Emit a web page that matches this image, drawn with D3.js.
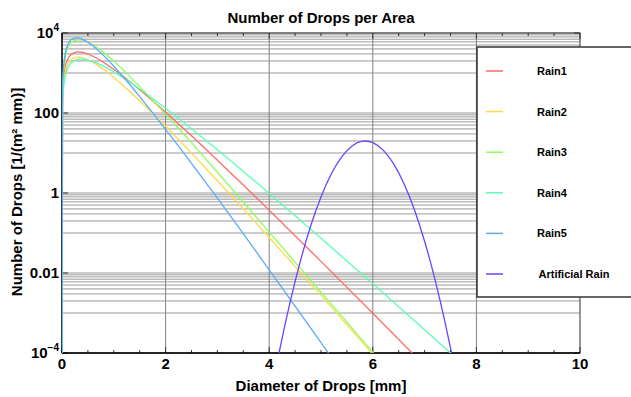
<!DOCTYPE html>
<html>
<head>
<meta charset="utf-8">
<script src="https://cdn.jsdelivr.net/npm/d3@7"></script>
<style>
  body { margin: 0; background: #fff; }
  text { font-family: "Liberation Sans", Arial, sans-serif; font-weight: bold; fill: #000; }
</style>
</head>
<body>
<svg id="chart" width="631" height="397"></svg>
<script>
// Drop diameters [mm] at which the rain spectra are sampled
const diameters = [0, 0.01, 0.02, 0.05, 0.1, 0.15, 0.2, 0.3, 0.4, 0.5, 0.6, 0.8, 1, 1.25, 1.5, 2, 2.5, 3, 4, 5, 6, 7, 8];

// Number of drops per area [1/(m² mm)] for each natural rain spectrum
const rain1 = [1e-5, 265, 520, 1199, 2070, 2667, 3048, 3357, 3273, 2985, 2618, 1862, 1236, 700, 382, 105, 26.9, 6.62, 0.372, 0.0195, 9.84e-4, 4.82e-5, 2.31e-6];
const rain2 = [1e-5, 161, 337, 836, 1510, 1982, 2286, 2506, 2404, 2153, 1845, 1239, 776, 406, 203, 46.6, 9.93, 2.03, 0.0773, 2.75e-3, 9.33e-5, 3.08e-6, 9.9e-8];
const rain3 = [1e-5, 282, 661, 1905, 3802, 5248, 6166, 6761, 6607, 5888, 5012, 3311, 1995, 977, 457, 93.3, 18.2, 3.31, 0.105, 3.31e-3, 1.05e-4, 3.31e-6, 1.05e-7];
const rain4 = [1e-5, 143, 286, 682, 1219, 1614, 1892, 2178, 2218, 2109, 1923, 1479, 1064, 665, 397, 132, 40.6, 12.1, 0.977, 0.0741, 5.38e-3, 3.8e-4, 2.62e-5];
const rain5 = [1e-5, 398, 891, 2455, 4677, 6237, 7161, 7586, 6918, 5888, 4732, 2754, 1479, 631, 257, 38.9, 5.50, 0.741, 0.0120, 1.82e-4, 2.9e-6, 4e-8, 5.4e-10];

// Artificial rain: narrow spectrum of large drops
const artificialDiameters = [4.0, 4.19, 4.4, 4.6, 4.8, 5.0, 5.2, 5.4, 5.6, 5.8, 5.855, 6.0, 6.2, 6.4, 6.6, 6.8, 7.0, 7.2, 7.4, 7.52, 7.7];
const artificialRain = [5.2e-6, 1.0e-4, 1.79e-3, 0.0194, 0.149, 0.798, 3.02, 8.02, 15.0, 19.7, 19.95, 18.2, 11.8, 5.40, 1.73, 0.392, 0.0621, 6.93e-3, 5.44e-4, 1.0e-4, 6.2e-6];

const seriesNames = ["Rain1", "Rain2", "Rain3", "Rain4", "Rain5", "Artificial Rain"];
const seriesColors = ["#ff6a6a", "#ffd84a", "#8cff5a", "#5cffb4", "#5aaaff", "#7040ff"];

const xTickValues = [0, 2, 4, 6, 8, 10];
const yTickValues = [1e4, 1e2, 1, 1e-2, 1e-4];
const yTickLabels = [["10", "4"], ["100"], ["1"], ["0.01"], ["10", "\u22124"]];

const chartTitle = "Number of Drops per Area";
const xTitle = "Diameter of Drops [mm]";
const yTitle = "Number of Drops [1/(m\u00B2 mm)]";

// ---- layout ----
const plotL = 62, plotR = 580, plotT = 33, plotB = 353;
const svg = d3.select("#chart");

const x = d3.scaleLinear().domain([0, 10]).range([plotL, plotR]);
const y = d3.scaleLog().domain([1e-4, 1e4]).range([plotB, plotT]);

// horizontal grid: ten lines in the upper decade of each labelled two-decade band
const gridValues = [];
[1e4, 1e2, 1, 1e-2].forEach(M => {
  for (let m = 1; m <= 10; m++) gridValues.push(M * m / 10);
});
svg.append("g")
  .selectAll("line").data(gridValues).join("line")
  .attr("x1", plotL).attr("x2", plotR)
  .attr("y1", d => y(d)).attr("y2", d => y(d))
  .attr("stroke", "#9a9a9a").attr("stroke-width", 1);

// vertical grid at the labelled diameters
svg.append("g")
  .selectAll("line").data(xTickValues.filter(v => v > 0 && v < 10)).join("line")
  .attr("x1", d => x(d)).attr("x2", d => x(d))
  .attr("y1", plotT).attr("y2", plotB)
  .attr("stroke", "#808080").attr("stroke-width", 1);

// minor x ticks on top and bottom frame
const minorX = d3.range(0, 10.01, 0.5).filter(v => v % 2 !== 0);
const tickG = svg.append("g").attr("stroke", "#333").attr("stroke-width", 1);
minorX.forEach(v => {
  tickG.append("line").attr("x1", x(v)).attr("x2", x(v)).attr("y1", plotB).attr("y2", plotB - 3);
  tickG.append("line").attr("x1", x(v)).attr("x2", x(v)).attr("y1", plotT).attr("y2", plotT + 3);
});
xTickValues.forEach(v => {
  tickG.append("line").attr("x1", x(v)).attr("x2", x(v)).attr("y1", plotB).attr("y2", plotB - 6);
  tickG.append("line").attr("x1", x(v)).attr("x2", x(v)).attr("y1", plotT).attr("y2", plotT + 6);
});
yTickValues.forEach(v => {
  tickG.append("line").attr("x1", plotL).attr("x2", plotL + 6).attr("y1", y(v)).attr("y2", y(v));
  tickG.append("line").attr("x1", plotR).attr("x2", plotR - 6).attr("y1", y(v)).attr("y2", y(v));
});

// frame
svg.append("rect")
  .attr("x", plotL).attr("y", plotT).attr("width", plotR - plotL).attr("height", plotB - plotT)
  .attr("fill", "none").attr("stroke", "#333").attr("stroke-width", 1);
svg.append("line").attr("x1", plotL).attr("x2", plotR).attr("y1", plotB).attr("y2", plotB)
  .attr("stroke", "#000").attr("stroke-width", 1.6);
svg.append("line").attr("x1", plotL).attr("x2", plotL).attr("y1", plotT).attr("y2", plotB)
  .attr("stroke", "#000").attr("stroke-width", 1.2);

// curves
svg.append("defs").append("clipPath").attr("id", "plotClip")
  .append("rect").attr("x", plotL).attr("y", plotT).attr("width", plotR - plotL).attr("height", plotB - plotT);

const line = d3.line()
  .x(d => x(d[0]))
  .y(d => y(d[1]))
  .curve(d3.curveMonotoneX);

const rainSeries = [rain1, rain2, rain3, rain4, rain5].map(vals => diameters.map((D, i) => [D, vals[i]]));
rainSeries.push(artificialDiameters.map((D, i) => [D, artificialRain[i]]));

svg.append("g").attr("clip-path", "url(#plotClip)")
  .selectAll("path").data(rainSeries).join("path")
  .attr("d", line)
  .attr("fill", "none")
  .attr("stroke", (d, i) => seriesColors[i])
  .attr("stroke-width", 1.3);

// tick labels
svg.append("g").selectAll("text").data(xTickValues).join("text")
  .attr("x", d => x(d)).attr("y", 369)
  .attr("text-anchor", "middle").attr("font-size", 15)
  .text(d => d);

const yl = svg.append("g").selectAll("text").data(yTickValues).join("text")
  .attr("x", 59).attr("y", d => y(d) + 5.3)
  .attr("text-anchor", "end").attr("font-size", 15);
yl.each(function (d, i) {
  const parts = yTickLabels[i];
  const t = d3.select(this);
  t.append("tspan").text(parts[0]);
  if (parts.length > 1) {
    t.append("tspan").attr("font-size", 10).attr("dy", -7).text(parts[1]);
  }
});

// titles
svg.append("text").attr("x", 321).attr("y", 23).attr("text-anchor", "middle")
  .attr("font-size", 15).text(chartTitle);
svg.append("text").attr("x", 321).attr("y", 391).attr("text-anchor", "middle")
  .attr("font-size", 15).text(xTitle);
svg.append("text").attr("transform", "translate(22,192) rotate(-90)")
  .attr("text-anchor", "middle").attr("font-size", 15).text(yTitle);

// legend
const legend = svg.append("g");
legend.append("rect")
  .attr("x", 477).attr("y", 47).attr("width", 200).attr("height", 250)
  .attr("fill", "#fff").attr("stroke", "#333").attr("stroke-width", 1.5);
const legendRow = d3.scaleLinear().domain([0, 5]).range([71, 274]);
seriesNames.forEach((name, i) => {
  legend.append("line")
    .attr("x1", 486).attr("x2", 503)
    .attr("y1", legendRow(i)).attr("y2", legendRow(i))
    .attr("stroke", seriesColors[i]).attr("stroke-width", 1.5);
  legend.append("text")
    .attr("x", i === 5 ? 538.5 : 537).attr("y", legendRow(i) + 4)
    .attr("font-size", 11).text(name);
});
</script>
</body>
</html>
